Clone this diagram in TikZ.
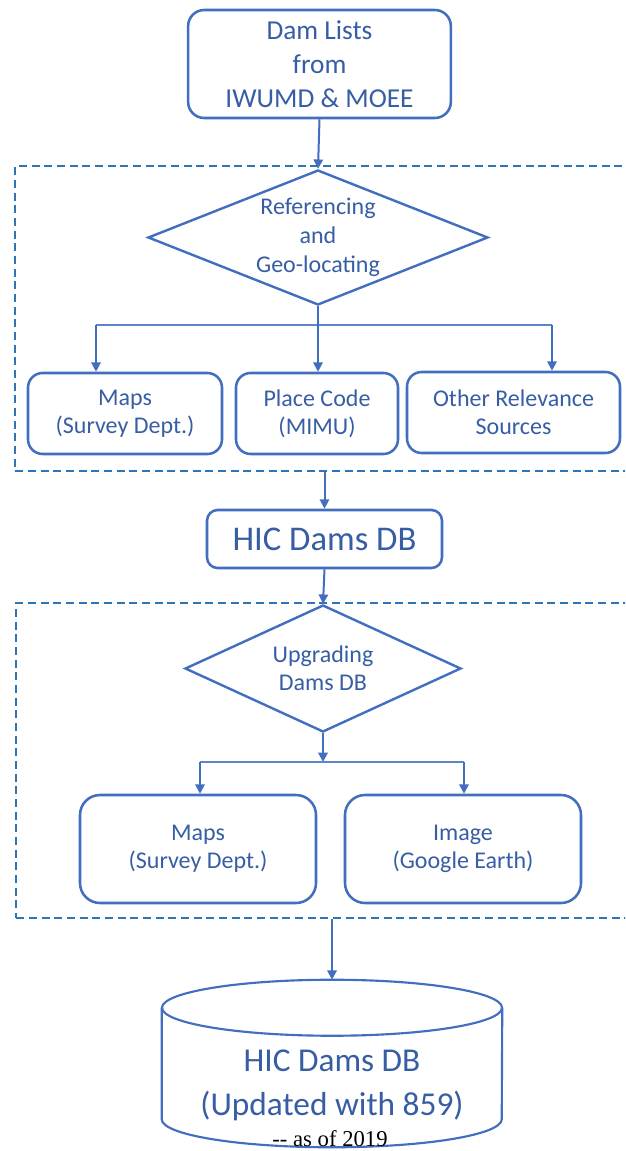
\documentclass[tikz,border=0pt]{standalone}
\usepackage{fontspec}
\setmainfont{Carlito}
\newfontfamily\timesfont{Liberation Serif}
\usetikzlibrary{shapes.geometric,arrows.meta,calc}
\definecolor{boxblue}{RGB}{66,110,192}
\definecolor{txtblue}{RGB}{55,94,164}
\definecolor{dashblue}{RGB}{46,117,182}
\tikzset{
  box/.style={draw=boxblue, line width=1.9pt, rounded corners=11pt, text=txtblue,
    align=center, font=\fontsize{18}{21}\selectfont, inner sep=0pt},
  dia/.style={diamond, draw=boxblue, line width=1.8pt, inner sep=0pt},
  diatext/.style={text=txtblue, align=center, font=\fontsize{18}{21.75}\selectfont},
  group/.style={draw=dashblue, line width=1.8pt, dash pattern=on 6pt off 3.5pt, inner sep=0pt},
  arr/.style={draw=boxblue, line width=1.5pt, -{Triangle[length=7pt,width=7pt]}},
  link/.style={draw=boxblue!85, line width=1pt},
  cylline/.style={draw=boxblue, line width=1.6pt},
}
\begin{document}
\begin{tikzpicture}[x=0.75pt,y=-0.75pt]
\useasboundingbox (0,0) rectangle (625,1151);
\clip (0,0) rectangle (625,1151);
\fill[white] (0,0) rectangle (625,1151);

% source lists
\node[box, rounded corners=12pt, minimum width=197pt, minimum height=81pt,
      font=\fontsize{20.5}{25.5}\selectfont] (top) at (319.5,64)
      {Dam Lists\\from\\IWUMD \& MOEE};

% first stage: referencing and geo-locating
\node[group, anchor=north west, minimum width=469.5pt, minimum height=228.75pt] (g1) at (14,165) {};
\node[dia, minimum width=255pt, minimum height=101.25pt] (d1) at (318,237.5) {};
\node[diatext] at (d1) {Referencing\\and\\Geo-locating};

\node[box, minimum width=145.5pt, minimum height=60.75pt] (m1) at (125,413.5) {Maps\\(Survey Dept.)};
\node[box, minimum width=121.5pt, minimum height=60.75pt] (p1) at (317,413.5) {Place Code\\(MIMU)};
\node[box, minimum width=159.75pt, minimum height=60.75pt] (o1) at (513.5,412.5) {Other Relevance\\Sources};

\coordinate (fL) at (96,325);
\coordinate (fR) at (552,325);

\draw[arr] (top.south) -- (d1.north);
\draw[link] (fL) -- (fR);
\draw[arr] (d1.south) -- (d1.south |- p1.north);
\draw[arr] (fL) -- (fL |- m1.north);
\draw[arr] (fR) -- (fR |- o1.north);

% intermediate database
\node[box, rounded corners=8pt, minimum width=176.25pt, minimum height=43.5pt,
      font=\fontsize{26}{30}\selectfont] (hic) at (324.5,539) {HIC Dams DB};
\draw[arr] (hic.north |- g1.south) -- (hic.north);

% second stage: upgrading
\node[group, anchor=north west, minimum width=468.75pt, minimum height=236.25pt] (g2) at (15,602) {};
\node[dia, minimum width=207pt, minimum height=95.25pt] (d2) at (323,668.5) {};
\node[diatext, font=\fontsize{18}{21}\selectfont] at (d2) {Upgrading\\Dams DB};
\draw[arr] (hic.south) -- (d2.north);

\node[box, rounded corners=15pt, minimum width=177pt, minimum height=81pt] (m2) at (198,849) {Maps\\(Survey Dept.)};
\node[box, rounded corners=15pt, minimum width=177pt, minimum height=81pt] (i2) at (463,849) {Image\\(Google Earth)};

\coordinate (j2) at (323,762);
\coordinate (sL) at (200,762);
\coordinate (sR) at (464,762);
\draw[arr] (d2.south) -- (j2);
\draw[link] (sL) -- (sR);
\draw[arr] (sL) -- (sL |- m2.north);
\draw[arr] (sR) -- (sR |- i2.north);

% final database
\node[minimum width=255pt, minimum height=125.25pt, inner sep=0pt] (db) at (332,1063.5) {};
\draw[cylline] ($(db.north west)+(0,28)$) -- ($(db.south west)+(0,-28)$)
  arc[start angle=180, end angle=360, x radius=127.5pt, y radius=21pt]
  -- ($(db.north east)+(0,28)$);
\draw[cylline] ($(db.north)+(0,28)$) ellipse[x radius=127.5pt, y radius=21pt];
\node[text=txtblue, align=center, font=\fontsize{25}{33}\selectfont] (dbt) at (332,1085)
  {HIC Dams DB\\(Updated with 859)};
\node[font=\timesfont\fontsize{17}{18}\selectfont, inner sep=0pt] (asof) at (330,1139) {-{}- as of 2019};
\draw[arr] (db.north |- g2.south) -- (db.north);
\end{tikzpicture}
\end{document}
